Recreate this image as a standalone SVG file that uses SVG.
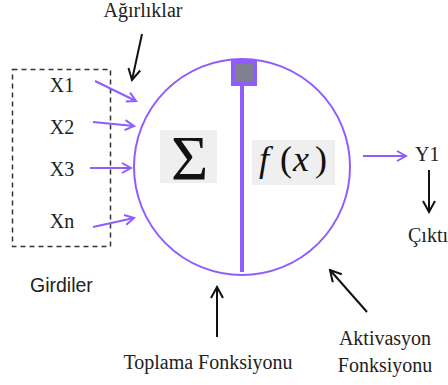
<svg xmlns="http://www.w3.org/2000/svg" width="448" height="385" viewBox="0 0 448 385">
<defs>
<style>
.t{font-size:20px;fill:#222}
.s{font-family:'Liberation Sans',Arial,sans-serif;font-size:19.5px;fill:#222}
.pa{stroke:#8f5cff;stroke-width:2;fill:none}
.ba{stroke:#111;stroke-width:2;fill:none}
</style>
<marker id="pv" markerWidth="12" markerHeight="12" refX="10" refY="6" orient="auto" markerUnits="userSpaceOnUse">
<path d="M1,1 L10,6 L1,11" fill="none" stroke="#8f5cff" stroke-width="2"/>
</marker>
<marker id="bv" markerWidth="14" markerHeight="14" refX="12" refY="7" orient="auto" markerUnits="userSpaceOnUse">
<path d="M1,1 L12,7 L1,13" fill="none" stroke="#111" stroke-width="2"/>
</marker>
</defs>
<rect width="448" height="385" fill="#fff"/>
<g id="inputs" font-family="Liberation Serif, Times New Roman, serif">
<rect x="12.5" y="69.5" width="98" height="177" fill="none" stroke="#333" stroke-width="1.5" stroke-dasharray="5,4"/>
<text class="t" x="62" y="92" text-anchor="middle">X1</text>
<text class="t" x="62" y="134" text-anchor="middle">X2</text>
<text class="t" x="62" y="176" text-anchor="middle">X3</text>
<text class="t" x="62" y="228" text-anchor="middle">Xn</text>
<text class="s" x="30" y="292">Girdiler</text>
</g>
<g id="neuron" font-family="Liberation Serif, Times New Roman, serif">
<circle cx="242" cy="167" r="108" fill="none" stroke="#8f5cff" stroke-width="2"/>
<line x1="242" y1="84" x2="242" y2="272" stroke="#8f5cff" stroke-width="4"/>
<rect x="231" y="60" width="26" height="26" fill="#8f5cff"/>
<rect x="235" y="64" width="18" height="17" fill="#7f8090"/>
<rect x="160" y="130" width="57" height="53" fill="#efefef"/>
<text x="189.5" y="180" text-anchor="middle" font-size="64" fill="#111">Σ</text>
<rect x="252" y="140" width="83" height="45" fill="#efefef"/>
<text y="171" font-size="36" fill="#111"><tspan x="259" font-style="italic">f</tspan><tspan x="280">(</tspan><tspan x="293" font-style="italic">x</tspan><tspan x="315">)</tspan></text>
</g>
<g id="connectors">
<line class="pa" x1="95" y1="81" x2="136" y2="101" marker-end="url(#pv)"/>
<line class="pa" x1="93" y1="122" x2="134" y2="126" marker-end="url(#pv)"/>
<line class="pa" x1="90" y1="168" x2="131" y2="168" marker-end="url(#pv)"/>
<line class="pa" x1="93" y1="227" x2="134" y2="218" marker-end="url(#pv)"/>
<line class="pa" x1="363" y1="156" x2="406" y2="156" marker-end="url(#pv)"/>
<line class="ba" x1="142" y1="34" x2="132" y2="80" marker-end="url(#bv)"/>
<line class="ba" x1="429" y1="170" x2="429" y2="212" marker-end="url(#bv)"/>
<line class="ba" x1="217" y1="337" x2="217" y2="287" marker-end="url(#bv)"/>
<line class="ba" x1="367" y1="312" x2="330" y2="270" marker-end="url(#bv)"/>
</g>
<g id="labels" font-family="Liberation Serif, Times New Roman, serif">
<text class="t" x="143" y="17" text-anchor="middle">Ağırlıklar</text>
<text class="t" x="415" y="161">Y1</text>
<text class="t" x="408" y="242">Çıktı</text>
<text class="t" x="208" y="369" text-anchor="middle">Toplama Fonksiyonu</text>
<text class="t" x="385" y="345" text-anchor="middle">Aktivasyon</text>
<text class="t" x="385" y="372" text-anchor="middle">Fonksiyonu</text>
</g>
</svg>
